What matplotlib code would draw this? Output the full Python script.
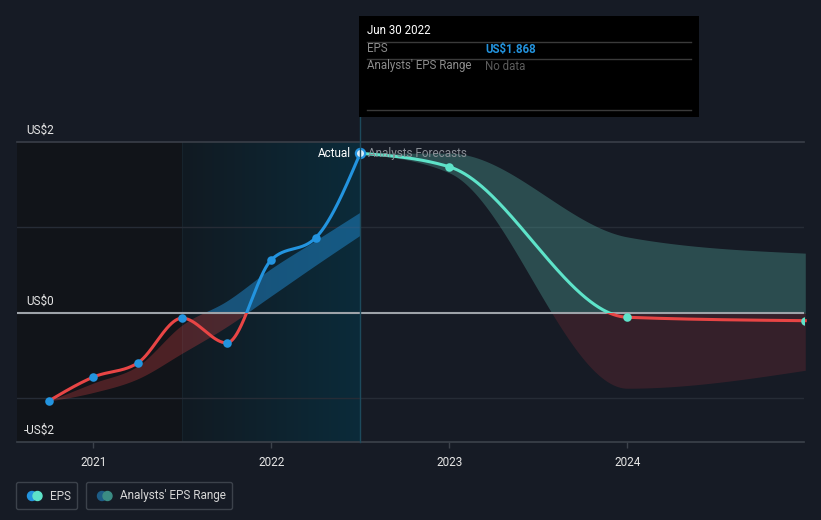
import numpy as np
import matplotlib
matplotlib.use("Agg")
import matplotlib.pyplot as plt
from matplotlib.patches import Rectangle, FancyBboxPatch, Circle
from matplotlib.colors import LinearSegmentedColormap

plt.rcParams['font.family'] = ['Roboto', 'DejaVu Sans']

# ---------------- data ----------------
actual_dates = [2020.75, 2021.0, 2021.25, 2021.5, 2021.75, 2022.0, 2022.25, 2022.5]
actual_eps = [-1.03, -0.75, -0.585, -0.06, -0.35, 0.62, 0.88, 1.868]

past_high = [-1.03, -0.82, -0.62, -0.14, 0.14, 0.52, 0.85, 1.18]
past_low = [-1.03, -0.93, -0.77, -0.47, -0.16, 0.20, 0.56, 0.91]

forecast_dates = [2022.5, 2023.0, 2024.0, 2025.0]
forecast_eps = [1.868, 1.71, -0.05, -0.09]
forecast_high = [1.868, 1.87, 0.89, 0.70]
forecast_low = [1.868, 1.64, -0.88, -0.67]

year_ticks = [2021, 2022, 2023, 2024]
year_labels = ["2021", "2022", "2023", "2024"]
y_labels = ["US$2", "US$0", "-US$2"]

tooltip_date = "Jun 30 2022"
tooltip_eps = "US$1.868"

# ---------------- colours ----------------
BG = "#161b25"
BLUE = "#2394df"
TEAL = "#5ee3c9"
RED = "#e84545"


def monotone_x(xs, ys, n=300):
    x = np.asarray(xs, float)
    y = np.asarray(ys, float)
    m = len(x)
    t = np.zeros(m)
    for i in range(1, m - 1):
        h0 = x[i] - x[i - 1]
        h1 = x[i + 1] - x[i]
        s0 = (y[i] - y[i - 1]) / h0
        s1 = (y[i + 1] - y[i]) / h1
        p = (s0 * h1 + s1 * h0) / (h0 + h1)
        t[i] = (np.sign(s0) + np.sign(s1)) * min(abs(s0), abs(s1), 0.5 * abs(p))
    t[0] = (3 * (y[1] - y[0]) / (x[1] - x[0]) - t[1]) / 2
    t[-1] = (3 * (y[-1] - y[-2]) / (x[-1] - x[-2]) - t[-2]) / 2
    X, Y = [], []
    for i in range(m - 1):
        h = x[i + 1] - x[i]
        s = np.linspace(0, 1, n)
        h00 = 2 * s**3 - 3 * s**2 + 1
        h10 = s**3 - 2 * s**2 + s
        h01 = -2 * s**3 + 3 * s**2
        h11 = s**3 - s**2
        X.append(x[i] + s * h)
        Y.append(h00 * y[i] + h10 * h * t[i] + h01 * y[i + 1] + h11 * h * t[i + 1])
    return np.concatenate(X), np.concatenate(Y)


W, H = 821, 520
fig = plt.figure(figsize=(W / 100, H / 100), dpi=100, facecolor=BG)

# pixel geometry
ax_left_px, ax_right_px = 16.8, 804.2
ax_top_px, ax_bot_px = 142, 442
ax = fig.add_axes([ax_left_px / W, 1 - ax_bot_px / H,
                   (ax_right_px - ax_left_px) / W, (ax_bot_px - ax_top_px) / H])
ax.set_facecolor(BG)
XMIN, XMAX = 2020.571, 2024.994
YMIN, YMAX = -1.509, 2.0
ax.set_xlim(XMIN, XMAX)
ax.set_ylim(YMIN, YMAX)
for sp in ax.spines.values():
    sp.set_visible(False)
ax.set_yticks([])
ax.set_xticks(year_ticks)
ax.set_xticklabels(year_labels, color="#e6e6e6", fontsize=8.5)
ax.tick_params(axis="x", length=4, color="#3c424b", width=1, pad=6)

# background regions
ax.axvspan(XMIN, 2021.5, color="#111419", zorder=0, lw=0)
grad = np.linspace(0, 1, 256).reshape(1, -1)
cm = LinearSegmentedColormap.from_list("g", ["#111a22", "#0b2b3a"])
ax.imshow(grad, extent=[2021.5, 2022.5, YMIN, YMAX], aspect="auto", cmap=cm,
          zorder=0.5, interpolation="bilinear")
ax.axvline(2021.5, color="#18252e", lw=0.6, zorder=0.6)

# grid lines
for yv in [1.0, -1.0]:
    ax.axhline(yv, color="#262c36", lw=1, zorder=1)
ax.axhline(2.0, color="#3a3f48", lw=1.2, zorder=1, clip_on=False)
ax.axhline(YMIN, color="#3c424b", lw=1.2, zorder=1, clip_on=False)


def clips():
    up = Rectangle((XMIN - 1, 0), 10, 10, transform=ax.transData)
    dn = Rectangle((XMIN - 1, -10), 10, 10, transform=ax.transData)
    return up, dn


# past analyst band
px, ph = monotone_x(actual_dates, past_high)
_, pl = monotone_x(actual_dates, past_low)
up, dn = clips()
f1 = ax.fill_between(px, pl, ph, color=BLUE, alpha=0.45, lw=0, zorder=2)
f1.set_clip_path(up)
f2 = ax.fill_between(px, pl, ph, color=RED, alpha=0.28, lw=0, zorder=2)
f2.set_clip_path(dn)

# forecast band
fx, fh = monotone_x(forecast_dates, forecast_high)
_, fl = monotone_x(forecast_dates, forecast_low)
up, dn = clips()
f3 = ax.fill_between(fx, fl, fh, color="#52a49a", alpha=0.36, lw=0, zorder=2)
f3.set_clip_path(up)
f4 = ax.fill_between(fx, fl, fh, color="#6e2933", alpha=0.36, lw=0, zorder=2)
f4.set_clip_path(dn)

# zero line
ax.axhline(0, color="#9ea3a9", lw=1.5, zorder=3)

# actual line
axx, axy = monotone_x(actual_dates, actual_eps)
up, dn = clips()
l1, = ax.plot(axx, axy, color=BLUE, lw=2.2, zorder=4, solid_capstyle="round")
l1.set_clip_path(up)
l2, = ax.plot(axx, axy, color=RED, lw=2.2, zorder=4, solid_capstyle="round")
l2.set_clip_path(dn)

# forecast line
fxx, fxy = monotone_x(forecast_dates, forecast_eps)
up, dn = clips()
l3, = ax.plot(fxx, fxy, color=TEAL, lw=2.2, zorder=4)
l3.set_clip_path(up)
l4, = ax.plot(fxx, fxy, color=RED, lw=2.2, zorder=4)
l4.set_clip_path(dn)

# markers
ax.scatter(actual_dates[:-1], actual_eps[:-1], s=38, color=BLUE, zorder=5, lw=0)
ax.scatter(forecast_dates[1:], forecast_eps[1:], s=38, color=TEAL, zorder=5, lw=0,
           clip_on=True)
ax.scatter([actual_dates[-1]], [actual_eps[-1]], s=44, facecolor="#d8eefc",
           edgecolor=BLUE, lw=1.6, zorder=6)

ax.text(actual_dates[-1] - 0.05, actual_eps[-1], "Actual", color="#ffffff",
        fontsize=8.5, ha="right", va="center", zorder=7)
ax.text(actual_dates[-1] + 0.045, actual_eps[-1], "Analysts Forecasts",
        color="#8a8f96", fontsize=8.5, ha="left", va="center", zorder=7)

# ---------------- overlay (pixel coords) ----------------
ov = fig.add_axes([0, 0, 1, 1], zorder=10)
ov.set_xlim(0, W)
ov.set_ylim(H, 0)
ov.axis("off")
ov.patch.set_alpha(0)

# vertical marker line from tooltip to axis bottom
ov.plot([359.5, 359.5], [117, 442], color="#1d4a5c", lw=1, zorder=1)

# y labels
ov.text(26, 130, y_labels[0], color="#e6e6e6", fontsize=8.5, va="center", ha="left")
ov.text(26, 301, y_labels[1], color="#e6e6e6", fontsize=8.5, va="center", ha="left")
ov.text(24, 430, y_labels[2], color="#e6e6e6", fontsize=8.5, va="center", ha="left")

# tooltip
ov.add_patch(Rectangle((359, 16), 340, 101, facecolor="#000000", edgecolor="none", zorder=2))
ov.text(367, 31, tooltip_date, color="#ffffff", fontsize=8.3, va="center", zorder=3)
for yy in [41.5, 58.5, 109.5]:
    ov.plot([367, 691], [yy, yy], color="#3a3a3a", lw=1, zorder=3)
ov.text(367, 49, "EPS", color="#8c8c8c", fontsize=8.3, va="center", zorder=3)
ov.text(485, 49, tooltip_eps, color=BLUE, fontsize=8.3, va="center",
        fontweight="bold", zorder=3)
ov.text(367, 66, "Analysts' EPS Range", color="#8c8c8c", fontsize=8.3,
        va="center", zorder=3)
ov.text(485, 66, "No data", color="#5c5c5c", fontsize=8.3, va="center", zorder=3)

# legend
ov.add_patch(FancyBboxPatch((16.5, 482.5), 61, 27, boxstyle="round,pad=0,rounding_size=2",
                            facecolor="none", edgecolor="#3c424b", lw=1))
ov.add_patch(Circle((32, 496), 4.5, color=BLUE))
ov.add_patch(Circle((37.5, 496), 4.5, color=TEAL))
ov.text(50, 496, "EPS", color="#d6d6d6", fontsize=8.5, va="center")

ov.add_patch(FancyBboxPatch((86.5, 482.5), 146, 27, boxstyle="round,pad=0,rounding_size=2",
                            facecolor="none", edgecolor="#3c424b", lw=1))
ov.add_patch(Circle((102, 496), 4.5, color="#1d5c86"))
ov.add_patch(Circle((107.5, 496), 4.5, color="#3b8c84"))
ov.text(120, 496, "Analysts' EPS Range", color="#d6d6d6", fontsize=8.5, va="center")

fig.savefig("out.png", dpi=100, facecolor=BG)
